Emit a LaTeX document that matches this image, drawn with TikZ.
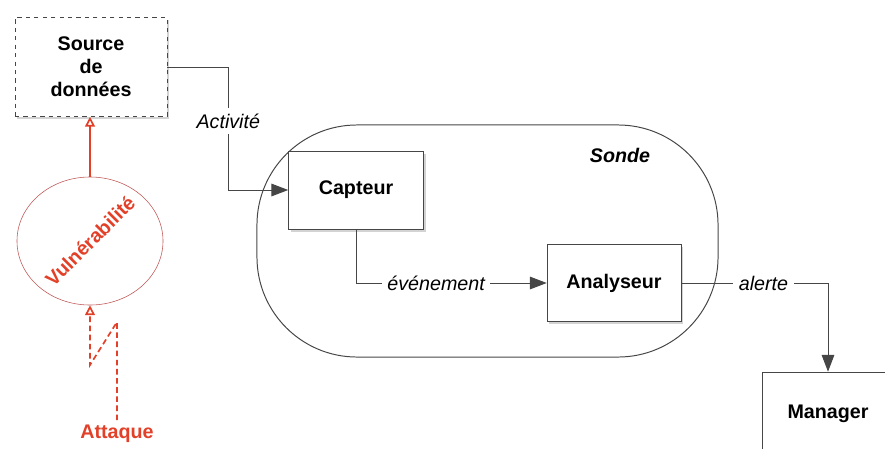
\documentclass[tikz,border=0pt]{standalone}
\usepackage{fontspec}
\setmainfont{Liberation Sans}
\usetikzlibrary{arrows.meta, shapes.geometric, shadows, positioning}

\definecolor{attackred}{RGB}{226,64,40}
\definecolor{vulnred}{RGB}{192,86,86}
\definecolor{linegray}{RGB}{70,70,70}

\tikzset{
  box/.style={draw=linegray, fill=white, align=center,
    font=\fontsize{14}{16.5}\selectfont\bfseries,
    drop shadow={opacity=0.35, shadow xshift=0.06cm, shadow yshift=-0.07cm}},
  lbl/.style={fill=white, inner sep=4pt, font=\fontsize{14}{16.5}\selectfont\itshape},
  wire/.style={draw=linegray, line width=0.7pt},
  redtip/.style={-{Triangle[open, length=7pt, width=7pt]}}
}

\begin{document}
\begin{tikzpicture}[x=0.025cm, y=-0.025cm, >={Triangle[length=12pt, width=9pt]}]

    \clip (0,0) rectangle (885,448);
    \useasboundingbox (0,0) rectangle (885,448);

    % Define nodes
    \node[draw=linegray, line width=0.7pt, xscale=0.65, transform shape, rounded corners=2.5cm,
          minimum width=17.73cm, minimum height=5.8cm] (sonde) at (487.5,241) {};
    \node[font=\fontsize{14}{16.5}\selectfont\bfseries\itshape] (sondeLbl) at (620,155) {Sonde};

    \node[box, dashed, minimum width=3.8cm, minimum height=2.475cm] (src) at (91,67) {Source\\de\\données};
    \node[box, minimum width=3.375cm, minimum height=1.95cm] (cap) at (356,190) {Capteur};
    \node[box, minimum width=3.35cm, minimum height=1.925cm] (ana) at (614,283) {Analyseur};
    \node[box, minimum width=3.3cm, minimum height=2.1cm] (mgr) at (828,414) {Manager};

    \node[draw=vulnred, ellipse, minimum width=3.65cm, minimum height=3.2cm] (vuln) at (90,241) {};
    \node[rotate=45, text=attackred, font=\fontsize{14}{16.5}\selectfont\bfseries] (vulnLbl) at (vuln.center) {Vulnérabilité};
    \node[text=attackred, font=\fontsize{14}{16.5}\selectfont\bfseries] (atk) at (117,434) {Attaque};

    % Attack path
    \coordinate (zzTop) at (117,322);
    \coordinate (zzBot) at (90,365);
    \draw[attackred, line width=1.2pt, dash pattern=on 4pt off 2.5pt, redtip] (atk.north) -- (zzTop) -- (zzBot) -- (vuln.south);
    \draw[attackred, line width=1.2pt, redtip] (vuln.north) -- (vuln.north |- src.south);

    % Flows
    \draw[wire, ->] (src.east) -- ++(61,0) |- node[lbl, pos=0.22] {Activité} (cap.west);
    \draw[wire, ->] (cap.south) |- node[lbl, pos=0.71] {événement} (ana.west);
    \draw[wire, ->] (ana.east) -| node[lbl, pos=0.28] {alerte} (mgr.north);

\end{tikzpicture}
\end{document}
